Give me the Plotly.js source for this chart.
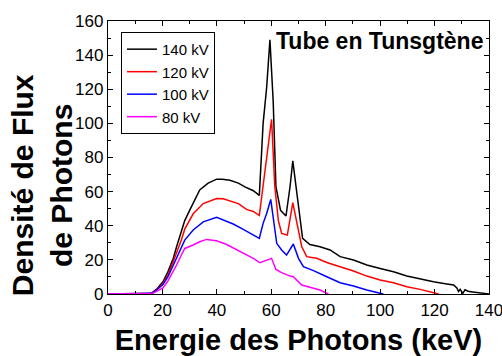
<!DOCTYPE html>
<html><head><meta charset="utf-8">
<script src="https://cdn.plot.ly/plotly-3.0.1.min.js"></script>
<style>html,body{margin:0;padding:0;background:#fff}#chart{width:502px;height:356px}</style>
</head><body><div id="chart"></div>
<script>
const seriesNames = ["140 kV", "120 kV", "100 kV", "80 kV"];
const seriesColors = ["#000000", "#ff0000", "#0000ff", "#ff00ff"];

const e140 = [0, 5, 10, 15, 16, 17, 18, 19, 20.2, 22, 24, 25.2, 27, 28.2, 30, 31.3, 33.7, 36.8, 39.9, 42, 44.8, 47.9, 50.3, 53.4, 55.6, 57, 58.3, 59.5, 60.7, 61.7, 63.4, 65.4, 66.9, 67.9, 69.1, 70.6, 71.5, 74.2, 77.9, 81.6, 85.3, 90.2, 95.1, 100, 104.9, 109.8, 114.7, 119.6, 124.5, 127, 128.2, 128.8, 129.4, 130.4, 131.2, 132.3, 134, 140];
const v140 = [0, 0, 0, 0, 0.5, 1.5, 3, 5, 7.2, 13, 21, 27.7, 37, 43, 49, 53, 61, 65, 67.3, 67.2, 66.7, 65, 62.8, 60.5, 57.8, 100, 121, 149, 113, 63, 49, 45.7, 63, 78, 63, 43, 32.6, 29, 27.7, 25.8, 21.9, 19.9, 17, 15, 13, 10.5, 8.8, 7.2, 5.9, 5.3, 3.5, 1.4, 2.7, 0.4, 2.5, 1.6, 1.2, 0];

const e120 = [0, 5, 10, 15, 16, 17, 18, 19, 20.2, 22, 24, 25.2, 27, 28.2, 31.3, 35, 39.9, 42.3, 44.8, 47.9, 50.9, 53.4, 55.6, 57, 58.3, 59.3, 60.1, 61.3, 62.6, 63.8, 65.9, 67.9, 69.3, 71.2, 73, 76.7, 80.4, 85.3, 90.2, 95.1, 100, 104.9, 109.8, 114.7, 119.6, 121.5];
const v120 = [0, 0, 0, 0, 0.4, 1.3, 2.6, 4.2, 6.2, 11, 19, 24, 32, 38, 47, 53, 56, 55.8, 54.6, 53, 49.6, 48.4, 46, 63, 80, 94, 102.4, 63, 43, 35.5, 34.5, 53.5, 43, 27.7, 21.9, 20.9, 18.5, 16, 13.5, 10.5, 8.2, 6.6, 4.3, 2.7, 0.8, 0];

const e100 = [0, 5, 10, 15, 16, 17, 18, 19, 20.2, 22, 24, 25.2, 27, 28.2, 31.3, 35, 39.9, 42.3, 46, 49.7, 53.4, 55.6, 57, 58.3, 59.8, 61, 62, 63.8, 65.6, 68.1, 70, 71.8, 75.5, 80.4, 85.3, 90.2, 95.1, 100, 101.2];
const v100 = [0, 0, 0, 0, 0.4, 1.2, 2.4, 3.8, 5.5, 10, 17, 21.9, 28, 31.6, 37.5, 42.3, 44.9, 43.3, 41, 37.9, 34.5, 32.6, 41.4, 47.2, 55.4, 39.4, 29.7, 25.8, 22.8, 29.3, 20.9, 16, 13.7, 10.1, 6.6, 4.7, 2.3, 0.4, 0];

const e80 = [0, 5, 10, 15, 16, 17, 18, 19, 20.2, 22, 24, 25.2, 27, 28.2, 31.3, 33.7, 36.2, 39.9, 43.6, 47.2, 50.9, 53.4, 55.8, 58.3, 60.1, 61.7, 63.8, 66.9, 68.1, 71.2, 74.2, 77.9, 81];
const v80 = [0, 0, 0, 0, 0.3, 0.8, 1.6, 2.5, 3.5, 7.5, 13, 17, 23, 26.7, 28.7, 30.6, 32, 31.2, 29, 26.1, 23.4, 20.9, 18.3, 19.9, 20.9, 14.4, 12.5, 10.5, 10.1, 5.3, 3.9, 2.3, 0];

const xs = [e140, e120, e100, e80];
const ys = [v140, v120, v100, v80];

const xTickVals = [0, 20, 40, 60, 80, 100, 120, 140];
const yTickVals = [0, 20, 40, 60, 80, 100, 120, 140, 160];

const xTitle = "Energie des Photons (keV)";
const yTitle = "Densité de Flux<br>de Photons";
const noteText = "Tube en Tunsgtène";

const FONT = "Arial, Liberation Sans, sans-serif";

const traces = seriesNames.map((n, i) => ({
  x: xs[i], y: ys[i], name: n, type: "scatter", mode: "lines",
  line: {color: seriesColors[i], width: 1.5}
}));

const axisCommon = {
  showgrid: false, zeroline: false, showline: true, linecolor: "#000", linewidth: 1.2,
  mirror: "allticks", ticks: "inside", ticklen: 5, tickcolor: "#000", tickwidth: 1,
  minor: {ticks: "inside", ticklen: 3, tickcolor: "#000", dtick: 10},
  ticklabeloverflow: "allow",
  tickfont: {family: FONT, size: 17, color: "#000"}
};

const layout = {
  width: 502, height: 356,
  margin: {l: 108, r: 13, t: 21, b: 62},
  paper_bgcolor: "#fff", plot_bgcolor: "#fff",
  showlegend: true,
  legend: {x: 0.034, y: 0.96, xanchor: "left", yanchor: "top",
    bgcolor: "rgba(255,255,255,0)", bordercolor: "#000", borderwidth: 1,
    font: {family: FONT, size: 15, color: "#000"},
    tracegroupgap: 0},
  xaxis: Object.assign({}, axisCommon, {
    range: [0, 140], tickvals: xTickVals, ticktext: xTickVals.map(String),
    title: {text: xTitle, standoff: 12, font: {family: FONT, size: 29, color: "#000", weight: "bold"}}
  }),
  yaxis: Object.assign({}, axisCommon, {
    range: [0, 160], tickvals: yTickVals, ticktext: yTickVals.map(String),
    title: {text: ""}
  }),
  annotations: [
    {text: "<b>" + yTitle.replace("<br>", "</b><br><b>") + "</b>", xref: "paper", yref: "paper",
     x: -0.173, y: 0.399, xanchor: "center", yanchor: "middle", textangle: -90, showarrow: false,
     font: {family: FONT, size: 30, color: "#000"}},
    {text: "<b>" + noteText + "</b>", xref: "paper", yref: "paper",
     x: 0.99, y: 0.925, xanchor: "right", yanchor: "middle", showarrow: false,
     font: {family: FONT, size: 23, color: "#000"}}
  ]
};

Plotly.newPlot("chart", traces, layout, {displayModeBar: false, staticPlot: true});
</script></body></html>
